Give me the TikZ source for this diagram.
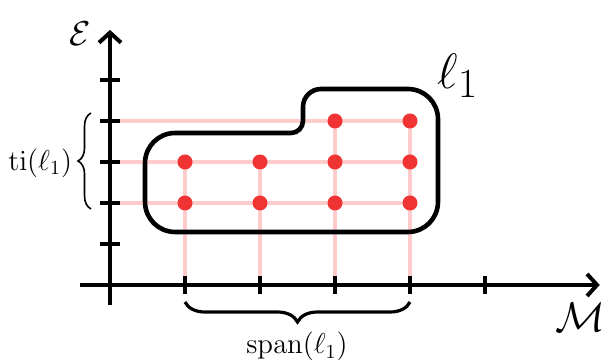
\documentclass[tikz,border=0pt]{standalone}
\usepackage{amsmath}
\usetikzlibrary{arrows.meta,decorations.pathreplacing}
\definecolor{gridpink}{HTML}{FFCCCC}
\definecolor{dotred}{HTML}{F03434}
\tikzset{
  axisline/.style={
    line width=2pt,
    -{Straight Barb[length=5pt,width=11pt,line width=2pt]}
  },
  tickmark/.style={line width=2pt},
  gridline/.style={line width=1.6pt, draw=gridpink},
  dotmark/.style={circle, fill=dotred, inner sep=0pt, minimum size=7.5pt},
  contour/.style={line width=2.3pt, line join=round, rounded corners=15pt},
  bracemark/.style={decorate, decoration={brace, amplitude=#1}}
}

\begin{document}
\begin{tikzpicture}[x=37.5pt, y=20.5pt]
\useasboundingbox (-1.4667,-1.878) rectangle (6.6133,6.951);
% axis points
\coordinate (o) at (0,0);
\foreach \i in {1,...,5} {
  \coordinate (x\i) at (\i,0);
  \coordinate (y\i) at (0,\i);
}
\coordinate (xleft) at (-0.4,0);
\coordinate (xright) at (6.53,0);
\coordinate (ybot) at (0,-0.49);
\coordinate (ytop) at (0,6.22);
% grid lines
\foreach \j in {2,3,4} \draw[gridline] (y\j) -- (y\j -| x4);
\foreach \i/\j in {1/3,2/3,3/4,4/4} \draw[gridline] (x\i) -- (x\i |- y\j);
% axes
\draw[axisline] (xleft) -- (xright);
\draw[axisline] (ybot) -- (ytop);
\foreach \i in {1,...,5} {
  \draw[tickmark] (x\i) ++(0,-4.5pt) -- ++(0,9pt);
  \draw[tickmark] (y\i) ++(-5pt,0) -- ++(10pt,0);
}
\node (eps) at (-0.4,6.12) {\LARGE$\mathcal{E}$};
\node (mod) at (6.27,-0.8) {\huge$\mathcal{M}$};
% points
\foreach \i/\j in {1/2,1/3,2/2,2/3,3/2,3/3,3/4,4/2,4/3,4/4}
  \node[dotmark] (d\i\j) at (\i,\j) {};
% the region
\draw[contour] (2.5,1.293) -- (0.467,1.293) -- (0.467,3.707)
  [rounded corners=6pt] -- (2.573,3.707)
  [rounded corners=9pt] -- (2.573,4.78)
  [rounded corners=15pt] -- (4.373,4.78) -- (4.373,1.293) -- cycle;
\node (ell) at (4.64,5.1) {\Huge$\ell_1$};
% braces
\coordinate (tilo) at (-0.253,1.854);
\coordinate (tihi) at (-0.253,4.195);
\draw[bracemark=6.5pt, line width=0.8pt] (tilo) -- (tihi);
\node (ti) at (-0.93,2.976) {\Large$\mathrm{ti}(\ell_1)$};
\coordinate (spl) at (1,-0.415);
\coordinate (spr) at (4,-0.415);
\draw[bracemark=10pt, line width=1.6pt] (spr) -- (spl);
\node (span) at (2.493,-1.5) {\Large$\mathrm{span}(\ell_1)$};
\end{tikzpicture}
\end{document}
